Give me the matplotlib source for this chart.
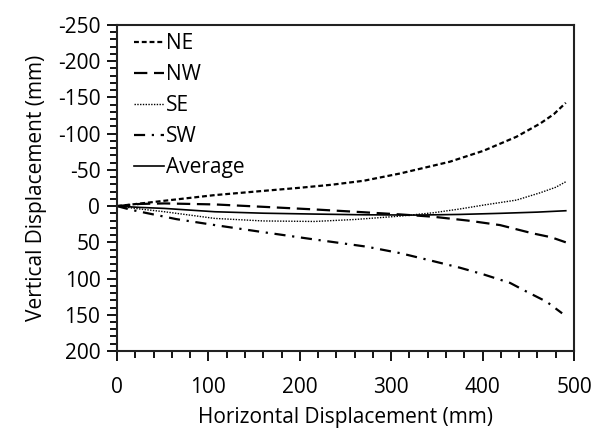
import matplotlib
matplotlib.use("Agg")
import matplotlib.pyplot as plt
from matplotlib.ticker import MultipleLocator

plt.rcParams['font.family'] = ['Open Sans', 'DejaVu Sans']
plt.rcParams['axes.unicode_minus'] = False

# horizontal displacement (mm) and vertical displacement (mm) per corner
ne_x = [0, 25, 52, 107, 160, 200, 235, 270, 310, 364, 401, 437, 463, 478, 491]
ne_y = [0, -3.5, -7.4, -15.2, -21, -25.3, -29.5, -35, -45.1, -61.2, -76.4, -95.7, -114, -127, -142.6]

nw_x = [0, 25, 52, 107, 160, 216, 270, 310, 346, 384, 419, 455, 475, 491]
nw_y = [0, -3, -3.7, -2.3, 1, 4.6, 8.5, 11.5, 14.7, 20, 26.2, 37.7, 43, 50]

se_x = [0, 25, 52, 107, 160, 216, 260, 310, 346, 375, 401, 437, 463, 480, 491]
se_y = [0, 4, 7.8, 17, 20.5, 21.2, 18.5, 13.8, 9.2, 4, -1.4, -8.3, -18.4, -26, -33.6]

sw_x = [0, 15, 34, 65, 107, 160, 210, 273, 310, 346, 375, 401, 430, 448, 470, 487]
sw_y = [0, 5, 10, 18, 26.2, 36, 45, 56, 65, 76, 85, 94.3, 106, 118, 132, 148]

avg_x = [0, 25, 52, 107, 160, 216, 270, 328, 375, 419, 460, 491]
avg_y = [0, 1.8, 3.2, 7.8, 9.8, 11, 12, 12.4, 11.5, 10, 8.3, 6.4]

fig = plt.figure(figsize=(5.97, 4.44), dpi=100)
ax = fig.add_axes([0.196, 0.2095, 0.7655, 0.7342])

ax.plot(ne_x, ne_y, color='black', lw=1.6, linestyle=(0, (2.2, 1.3)), label='NE')
ax.plot(nw_x, nw_y, color='black', lw=1.6, linestyle=(0, (6, 3)), label='NW')
ax.plot(se_x, se_y, color='black', lw=1.0, linestyle=(0, (1, 1)), label='SE')
ax.plot(sw_x, sw_y, color='black', lw=1.6, linestyle=(0, (5, 3, 1, 3)), label='SW')
ax.plot(avg_x, avg_y, color='black', lw=1.2, linestyle='-', label='Average')

ax.set_xlim(0, 500)
ax.set_ylim(200, -250)
ax.xaxis.set_major_locator(MultipleLocator(100))
ax.xaxis.set_minor_locator(MultipleLocator(20))
ax.yaxis.set_major_locator(MultipleLocator(50))
ax.yaxis.set_minor_locator(MultipleLocator(10))
ax.tick_params(which='major', direction='out', length=7, width=1.3, labelsize=15, pad=5)
ax.tick_params(which='minor', direction='out', length=5, width=1.3)
ax.tick_params(axis='x', pad=12)

for s in ax.spines.values():
    s.set_linewidth(1.5)
    s.set_color('#222222')

ax.set_xlabel('Horizontal Displacement (mm)', fontsize=15, labelpad=6)
ax.set_ylabel('Vertical Displacement (mm)', fontsize=15, labelpad=8)

ax.legend(loc='upper left', frameon=False, fontsize=15, handlelength=1.4,
          handletextpad=0.1, labelspacing=0.48, borderaxespad=0.0,
          bbox_to_anchor=(0.02, 1.0))

fig.savefig('out.png', dpi=100)
